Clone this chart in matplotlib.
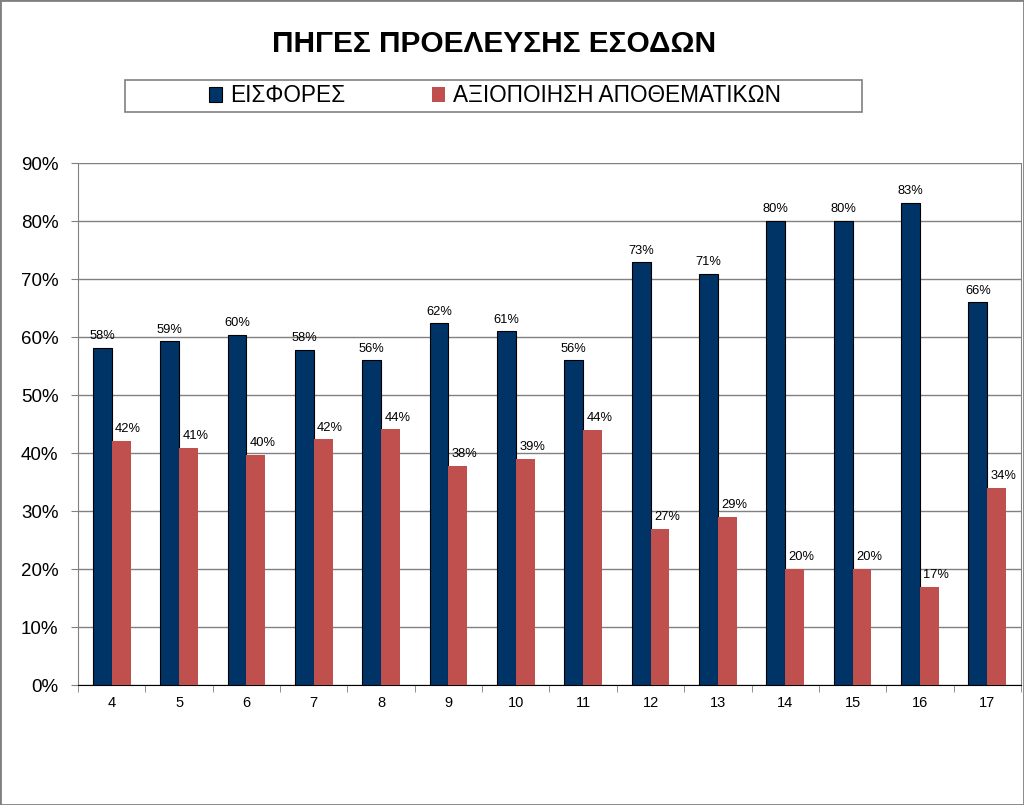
import numpy as np
import matplotlib
matplotlib.use('Agg')
import matplotlib.pyplot as plt
from matplotlib.patches import Rectangle
from matplotlib.ticker import FuncFormatter, FixedLocator

plt.rcParams['font.family'] = ['Liberation Sans', 'DejaVu Sans']

categories = ['4', '5', '6', '7', '8', '9', '10', '11', '12', '13', '14', '15', '16', '17']
eisfores = [58.1, 59.3, 60.4, 57.8, 56.0, 62.4, 61.0, 56.0, 72.9, 70.9, 80.0, 80.0, 83.1, 66.0]
axiopoiisi = [42.1, 40.9, 39.7, 42.4, 44.1, 37.8, 39.0, 44.0, 26.9, 29.0, 20.0, 20.0, 16.9, 34.0]
series_names = ['ΕΙΣΦΟΡΕΣ', 'ΑΞΙΟΠΟΙΗΣΗ ΑΠΟΘΕΜΑΤΙΚΩΝ']

BLUE = '#003366'
RED = '#C0504D'


def main():
    fig = plt.figure(figsize=(10.24, 8.05), dpi=100)
    ax = fig.add_axes([78 / 1024, 1 - 685 / 805, 943 / 1024, 522 / 805])

    x = np.arange(len(categories))
    w = 0.28
    b1 = ax.bar(x - w / 2, eisfores, w, color=BLUE, edgecolor='black', linewidth=0.8, zorder=3)
    b2 = ax.bar(x + w / 2, axiopoiisi, w, color=RED, linewidth=0, zorder=3)

    for rect, v in zip(b1, eisfores):
        ax.annotate('%.0f%%' % v, (rect.get_x() + rect.get_width() / 2, v),
                    xytext=(0, 4), textcoords='offset points',
                    ha='center', va='bottom', fontsize=9.3)
    for rect, v in zip(b2, axiopoiisi):
        ax.annotate('%.0f%%' % v, (rect.get_x() + rect.get_width() / 2, v),
                    xytext=(5, 4), textcoords='offset points',
                    ha='center', va='bottom', fontsize=9.3)

    ax.set_xlim(-0.5, len(categories) - 0.5)
    ax.set_ylim(0, 90)
    ax.set_yticks(np.arange(0, 91, 10))
    ax.yaxis.set_major_formatter(FuncFormatter(lambda v, p: '%d%%' % v))
    ax.set_xticks(x)
    ax.set_xticklabels(categories)
    ax.xaxis.set_minor_locator(FixedLocator(np.arange(-0.5, len(categories), 1)))
    ax.tick_params(axis='x', which='major', length=0, labelsize=10.5, pad=8)
    ax.tick_params(axis='x', which='minor', length=5, color='#808080')
    ax.tick_params(axis='y', length=5, color='#808080', labelsize=13.5, pad=9)
    ax.grid(axis='y', color='#808080', linewidth=1, zorder=0)
    for s in ['left', 'right', 'bottom', 'top']:
        ax.spines[s].set_color('#808080')
    ax.spines['bottom'].set_color('black')
    ax.spines['top'].set_visible(False)

    fig.text(494 / 1024, 1 - 44 / 805, 'ΠΗΓΕΣ ΠΡΟΕΛΕΥΣΗΣ ΕΣΟΔΩΝ', ha='center', va='center',
             fontsize=21.5, fontweight='bold')

    # legend box
    fig.patches.append(Rectangle((125 / 1024, 1 - 112 / 805), 737 / 1024, 32 / 805,
                                 transform=fig.transFigure, fill=False,
                                 edgecolor='#808080', linewidth=1.2))
    fig.legend([b1, b2], series_names, loc='center', bbox_to_anchor=(495 / 1024, 1 - 96 / 805),
               ncol=2, frameon=False, fontsize=16.3, handlelength=0.55, handleheight=0.6,
               handletextpad=0.35, columnspacing=3.85)

    # outer border
    fig.patches.append(Rectangle((0, 0), 1, 1, transform=fig.transFigure, fill=False,
                                 edgecolor='#808080', linewidth=2))

    fig.savefig('out.png', dpi=100)


if __name__ == '__main__':
    main()
